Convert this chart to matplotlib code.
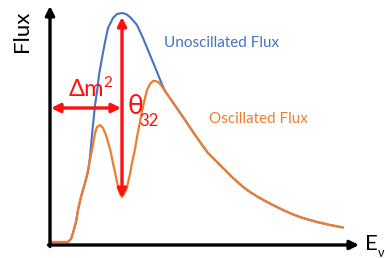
import matplotlib
matplotlib.use("Agg")
import matplotlib.pyplot as plt
import numpy as np

plt.rcParams['font.family'] = ['Lato', 'DejaVu Sans']

# curve (energy, flux in arbitrary units)
orange_head_e = [0, 18, 21, 23, 26, 28, 31, 35, 38, 40, 42, 45, 47, 50, 53, 56, 60, 63, 66, 68,
                 70, 72, 74, 77, 80, 82, 85, 87, 90, 92, 95, 97, 100, 103, 105, 108, 111]
orange_head_f = [3, 3, 6, 12, 23, 35, 48, 62, 75, 85, 95, 112, 118, 120, 117, 110, 96, 82, 68, 58,
                 51, 48, 51, 58, 71, 82, 96, 108, 123, 134, 147, 155, 161, 164, 164, 163, 160]

blue_head_e = [0, 18, 21, 23, 26, 28, 31, 35, 38, 40, 42, 44, 45, 47, 49, 52, 55, 58, 63, 67,
               72, 76, 80, 87, 93, 100, 107, 111]
blue_head_f = [3, 3, 6, 12, 23, 35, 48, 62, 73, 88, 110, 130, 140, 153, 170, 187, 203, 217, 227, 231,
               232, 231, 228, 220, 207, 190, 173, 163]

# common tail, both curves the same here
tail_e = [115, 124, 133, 141, 150, 158, 167, 175, 183, 192, 200, 208, 217, 225, 233,
          242, 250, 258, 267, 280, 293]
tail_f = [154, 141, 128, 116, 103, 92, 83, 75, 67, 59, 53, 48, 43, 39, 35,
          31, 28, 25.5, 23, 20, 17.5]

blue = '#4472C4'
orange = '#ED7D31'
red = '#FF1010'

fig = plt.figure(figsize=(3.85, 2.58), dpi=100)
ax = fig.add_axes([0, 0, 1, 1])
ax.set_xlim(-50, 335)
ax.set_ylim(-13, 245)
ax.axis('off')

ax.plot(blue_head_e + tail_e, blue_head_f + tail_f, color=blue, lw=1.5,
        solid_capstyle='round', solid_joinstyle='round', zorder=2)
ax.plot(orange_head_e + tail_e, orange_head_f + tail_f, color=orange, lw=1.6,
        solid_capstyle='round', solid_joinstyle='round', zorder=3)

# axes with arrow heads
ax.annotate('', xy=(0, 239), xytext=(0, -1.5),
            arrowprops=dict(arrowstyle='-|>', color='black', lw=2.4,
                            mutation_scale=13, shrinkA=0, shrinkB=0), zorder=4)
ax.annotate('', xy=(309, 0), xytext=(-1.5, 0),
            arrowprops=dict(arrowstyle='-|>', color='black', lw=2.4,
                            mutation_scale=13, shrinkA=0, shrinkB=0), zorder=4)

# red arrows
ax.annotate('', xy=(72, 228), xytext=(72, 47),
            arrowprops=dict(arrowstyle='<|-|>', color=red, lw=2.4,
                            mutation_scale=13, shrinkA=0, shrinkB=0), zorder=5)
ax.annotate('', xy=(71, 137), xytext=(1, 137),
            arrowprops=dict(arrowstyle='<|-|>', color=red, lw=2.4,
                            mutation_scale=13, shrinkA=0, shrinkB=0), zorder=5)

# labels
ax.text(-28, 214, 'Flux', rotation=90, fontsize=16, ha='center', va='center', color='black')
ax.text(36, 155, 'Δm', fontsize=17, ha='center', va='center', color=red)
ax.text(58, 162, '2', fontsize=11, ha='center', va='center', color=red)
ax.text(85, 138, 'θ', fontsize=19, ha='center', va='center', color=red)
ax.text(99, 124, '32', fontsize=12, ha='center', va='center', color=red)
ax.text(172, 202, 'Unoscillated Flux', fontsize=11, ha='center', va='center', color=blue)
ax.text(208, 126, 'Oscillated Flux', fontsize=11, ha='center', va='center', color=orange)
ax.text(321, 1, 'E', fontsize=16, ha='center', va='center', color='black')
ax.text(331, -8, 'ν', fontsize=9, ha='center', va='center', color='black')

fig.savefig('out.png', dpi=100)
